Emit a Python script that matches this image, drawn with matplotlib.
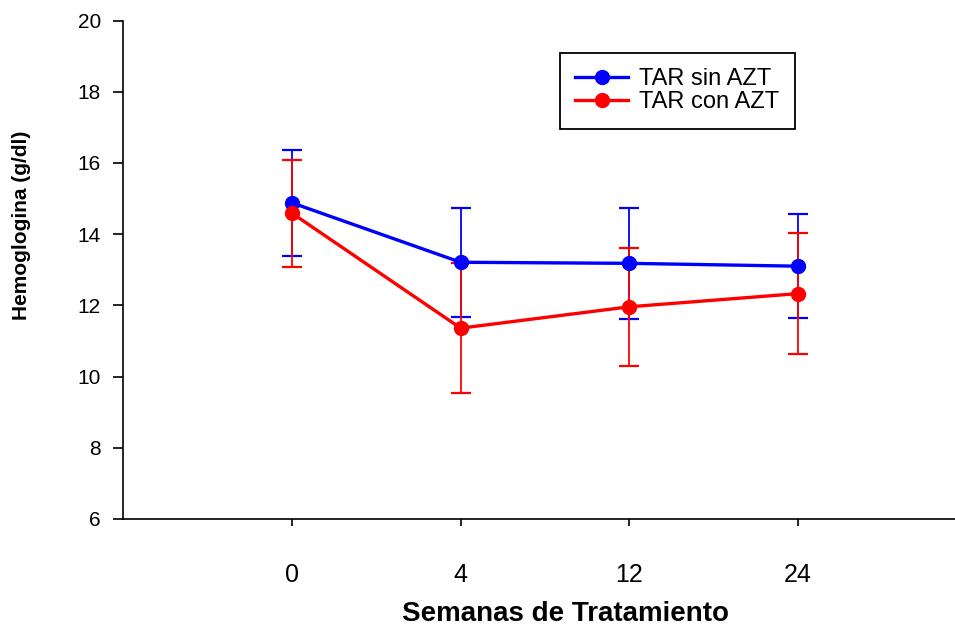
import matplotlib
matplotlib.use("Agg")
import matplotlib.pyplot as plt
from matplotlib.lines import Line2D

plt.rcParams['font.family'] = ['Liberation Sans', 'DejaVu Sans']

# datos
semanas = ['0', '4', '12', '24']
sin_azt = [14.88, 13.21, 13.18, 13.10]
sin_azt_err = [1.49, 1.53, 1.55, 1.46]
con_azt = [14.59, 11.36, 11.96, 12.33]
con_azt_err = [1.50, 1.82, 1.65, 1.71]

azul = '#0000ff'
rojo = '#ff0000'

fig = plt.figure(figsize=(9.55, 6.31), dpi=100)
ax = fig.add_axes([0.129, 0.1775, 0.871, 0.79])

x = range(len(semanas))
ax.errorbar(x, sin_azt, yerr=sin_azt_err, color=azul, lw=2.4, marker='o',
            ms=10, capsize=7, elinewidth=1.3, capthick=1.6)
ax.errorbar(x, con_azt, yerr=con_azt_err, color=rojo, lw=2.4, marker='o',
            ms=10, capsize=7, elinewidth=1.3, capthick=1.6)

ax.set_xlim(-1, 3.93)
ax.set_ylim(6, 20)
ax.set_yticks(range(6, 21, 2))
ax.set_xticks(list(x))
ax.set_xticklabels(semanas)

for s in ['top', 'right']:
    ax.spines[s].set_visible(False)
for s in ['left', 'bottom']:
    ax.spines[s].set_linewidth(1.2)

ax.tick_params(axis='y', direction='out', length=7, width=1.2, pad=9, labelsize=15)
ax.tick_params(axis='x', direction='out', length=5, width=1.2, pad=27, labelsize=18)

ax.set_xlabel('Semanas de Tratamiento', fontsize=20, fontweight='bold')
ax.xaxis.set_label_coords(0.532, -0.205)
ax.xaxis.label.set_va('baseline')
ax.set_ylabel('Hemoglogina (g/dl)', fontsize=15, fontweight='bold')
ax.yaxis.set_label_coords(-0.122, 0.59)
ax.yaxis.label.set_va('center')

handles = [Line2D([], [], color=azul, lw=2.4, marker='o', ms=10),
           Line2D([], [], color=rojo, lw=2.4, marker='o', ms=10)]
leg = ax.legend(handles, ['TAR sin AZT', 'TAR con AZT'], loc='upper left',
                bbox_to_anchor=(560 / 955, 1 - 52.7 / 631),
                bbox_transform=fig.transFigure, fontsize=17, fancybox=False,
                edgecolor='black', framealpha=1, handlelength=2.25,
                handletextpad=0.45, labelspacing=0.05, borderpad=0.65,
                borderaxespad=0)
leg.get_frame().set_linewidth(1.3)

fig.savefig('out.png', dpi=100)
